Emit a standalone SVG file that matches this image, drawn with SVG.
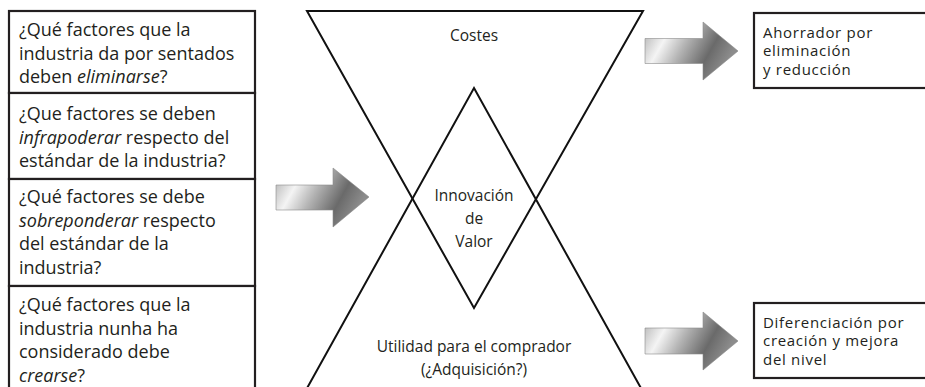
<svg xmlns="http://www.w3.org/2000/svg" width="925" height="387" viewBox="0 0 925 387">
  <defs>
    <linearGradient id="arrowGrad" x1="0" y1="0" x2="1" y2="0.35">
      <stop offset="0" stop-color="#a9a9a9"/>
      <stop offset="0.28" stop-color="#f4f4f4"/>
      <stop offset="0.5" stop-color="#b4b4b4"/>
      <stop offset="0.78" stop-color="#6a6a6a"/>
      <stop offset="1" stop-color="#8c8c8c"/>
    </linearGradient>
    <style>
      .box { fill: #ffffff; stroke: #231f20; stroke-width: 2.2; }
      .tri { fill: none; stroke: #111111; stroke-width: 2; stroke-linejoin: miter; }
      .lt { font-family: "Open Sans", "Noto Sans", sans-serif; font-size: 18px; fill: #231f20; }
      .mt { font-family: "Open Sans", "Noto Sans", sans-serif; font-size: 15.5px; fill: #231f20; text-anchor: middle; }
      .rt { font-family: "Open Sans", "Noto Sans", sans-serif; font-size: 15px; letter-spacing: 0.7px; fill: #231f20; }
      .arrow { fill: url(#arrowGrad); stroke: #8a8a8a; stroke-width: 0.6; }
      .it { font-style: italic; }
    </style>
  </defs>
  <rect width="925" height="387" fill="#ffffff"/>

  <g id="box-eliminar">
    <rect class="box" x="9" y="11" width="246" height="82"/>
    <text class="lt" x="19" y="36">¿Qué factores que la</text>
    <text class="lt" x="19" y="59.5">industria da por sentados</text>
    <text class="lt" x="19" y="83">deben <tspan class="it">eliminarse</tspan>?</text>
  </g>
  <g id="box-reducir">
    <rect class="box" x="9" y="93" width="246" height="86"/>
    <text class="lt" x="19" y="120">¿Que factores se deben</text>
    <text class="lt" x="19" y="143.5"><tspan class="it">infrapoderar</tspan> respecto del</text>
    <text class="lt" x="19" y="167">estándar de la industria?</text>
  </g>
  <g id="box-incrementar">
    <rect class="box" x="9" y="179" width="246" height="107"/>
    <text class="lt" x="19" y="203">¿Qué factores se debe</text>
    <text class="lt" x="19" y="226.5"><tspan class="it">sobreponderar</tspan> respecto</text>
    <text class="lt" x="19" y="250">del estándar de la</text>
    <text class="lt" x="19" y="273.5">industria?</text>
  </g>
  <g id="box-crear">
    <rect class="box" x="9" y="286" width="246" height="110"/>
    <text class="lt" x="19" y="311">¿Qué factores que la</text>
    <text class="lt" x="19" y="334.5">industria nunha ha</text>
    <text class="lt" x="19" y="358">considerado debe</text>
    <text class="lt" x="19" y="381.5"><tspan class="it">crearse</tspan>?</text>
  </g>

  <g id="triangle-costes">
    <polygon class="tri" points="307,11 643,11 474,308"/>
    <text class="mt" x="474" y="41">Costes</text>
  </g>
  <g id="triangle-utilidad">
    <polygon class="tri" points="474,88 642,390 306,390"/>
    <text class="mt" x="474" y="352">Utilidad para el comprador</text>
    <text class="mt" x="474" y="375">(¿Adquisición?)</text>
  </g>
  <g id="innovacion-valor">
    <text class="mt" x="474" y="201">Innovación</text>
    <text class="mt" x="474" y="224">de</text>
    <text class="mt" x="474" y="247">Valor</text>
  </g>

  <g id="box-ahorro">
    <rect class="box" x="754" y="13" width="180" height="75"/>
    <text class="rt" x="763" y="37.5">Ahorrador por</text>
    <text class="rt" x="763" y="56.1">eliminación</text>
    <text class="rt" x="763" y="74.7">y reducción</text>
  </g>
  <g id="box-diferenciacion">
    <rect class="box" x="754" y="303" width="180" height="75"/>
    <text class="rt" x="763" y="327.5">Diferenciación por</text>
    <text class="rt" x="763" y="346.1">creación y mejora</text>
    <text class="rt" x="763" y="364.7">del nivel</text>
  </g>

  <g id="connectors">
    <polygon class="arrow" points="276,185 333,185 333,168 369,197 333,227 333,210 276,210"/>
    <polygon class="arrow" points="645,38.5 703,38.5 703,22 738,51 703,80 703,63.5 645,63.5"/>
    <polygon class="arrow" points="645,328 703,328 703,312 738,341 703,370 703,354 645,354"/>
  </g>
</svg>
